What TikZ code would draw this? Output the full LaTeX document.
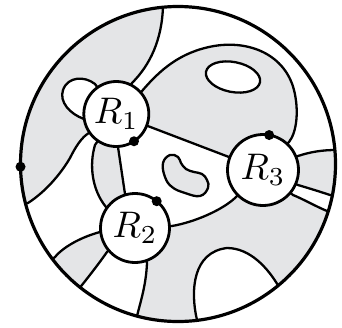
\documentclass[tikz,border=0pt]{standalone}
\usetikzlibrary{calc}
\definecolor{regiongray}{RGB}{228,229,231}
\begin{document}
\begin{tikzpicture}[x=1pt,y=-1pt,
  curve/.style={line width=2.3pt, line join=round},
  region/.style={circle, draw, line width=2.8pt, fill=white, inner sep=0pt},
  regionlabel/.style={inner sep=0pt, scale=3.7},
  dotmark/.style={circle, fill=black, inner sep=0pt, minimum size=10pt},
]
\useasboundingbox (0,0) rectangle (342,327);
% centres
\coordinate (o) at (178,164);
\coordinate (c1) at (116.3,114);
\coordinate (c2) at (135,228);
\coordinate (c3) at (263,170);
% points on the outer circle and points outside it
\coordinate (A) at (163,6);   \coordinate (A') at (160,-30);
\coordinate (B) at (28,203);  \coordinate (B') at (-12,213);
\coordinate (C) at (55,257);  \coordinate (C') at (15,287);
\coordinate (D) at (82,285);  \coordinate (D') at (57,316);
\coordinate (E) at (137,316); \coordinate (E') at (127,355);
\coordinate (F) at (197,320); \coordinate (F') at (202,360);
\coordinate (G) at (279,287); \coordinate (G') at (305,318);
\coordinate (H) at (327,211); \coordinate (H') at (356,220);
\coordinate (I) at (330,195); \coordinate (I') at (360,200);
\coordinate (J) at (336,150); \coordinate (J') at (370,148);

\begin{scope}
\clip (o) circle [radius=157.5];
\fill[regiongray] (o) circle [radius=160];
% white regions
\fill[white] (A) -- (A') -- (370,-30) -- (J') -- (J)
  .. controls (322,150) and (310,152) .. (298,156) -- (c3) -- (289,142)
  .. controls (297,132) and (299,110) .. (294,90)
  .. controls (285,55) and (250,40) .. (214,46)
  .. controls (180,52) and (160,70) .. (142,91) -- (c1) -- (132,83)
  .. controls (150,65) and (162,40) .. (A) -- cycle;
\fill[white] (c1) -- (c3) -- (235,198) .. controls (222,210) and (195,222) .. (172,226)
  -- (c2) -- (125,194) -- (118,147) -- cycle;
\fill[white] (B) -- (B') -- (C') -- (C) .. controls (65,245) and (85,236) .. (100,232)
  -- (c2) -- (106,207) .. controls (92,190) and (89,165) .. (95,145) -- (c1) -- (86,135)
  .. controls (80,140) and (75,148) .. (70,158) .. controls (60,175) and (45,192) .. (B) -- cycle;
\fill[white] (107,252) .. controls (100,262) and (90,275) .. (D) -- (D') -- (E') -- (E)
  .. controls (141,300) and (146,285) .. (147,263) -- (c2) -- cycle;
\fill[white] (F) .. controls (190,290) and (193,252) .. (227,248)
  .. controls (250,248) and (268,268) .. (G) -- (G') -- (F') -- cycle;
\fill[white] (298,185) .. controls (308,188) and (318,191) .. (I) -- (I') -- (H') -- (H)
  .. controls (315,206) and (303,199) .. (293,195) -- (c3) -- cycle;
% hole in the blob
\filldraw[fill=white, curve, rotate around={-11:(233,77)}] (233,77) ellipse [x radius=27.5, y radius=15];
% bean
\filldraw[fill=regiongray, curve] plot[smooth cycle, tension=0.7] coordinates
  {(170,155) (178,157) (181,163) (186,169) (194,172) (202,174) (207,180) (208,188) (200,196) (185,193) (172,187) (165,177) (163,163)};
% loop on R1
\filldraw[fill=white, curve] (95,84) .. controls (85,76) and (68,76) .. (63,90)
  .. controls (59,102) and (70,114) .. (84,119) -- (c1) -- cycle;
% strokes
\draw[curve] (A') -- (A) .. controls (162,40) and (150,65) .. (132,83) -- (c1);
\draw[curve] (c1) -- (142,91) .. controls (160,70) and (180,52) .. (214,46)
  .. controls (250,40) and (285,55) .. (294,90)
  .. controls (299,110) and (297,132) .. (289,142) -- (c3);
\draw[curve] (c1) -- (c3);
\draw[curve] (c3) -- (235,198) .. controls (222,210) and (195,222) .. (172,226) -- (c2);
\draw[curve] (c1) -- (95,145) .. controls (89,165) and (92,190) .. (106,207) -- (c2);
\draw[curve] (c1) -- (118,147) -- (125,194) -- (c2);
\draw[curve] (B') -- (B) .. controls (45,192) and (60,175) .. (70,158)
  .. controls (75,148) and (80,140) .. (86,135) -- (c1);
\draw[curve] (c2) -- (100,232) .. controls (85,236) and (65,245) .. (C) -- (C');
\draw[curve] (c2) -- (107,252) .. controls (100,262) and (90,275) .. (D) -- (D');
\draw[curve] (c2) -- (147,263) .. controls (146,285) and (141,300) .. (E) -- (E');
\draw[curve] (F') -- (F) .. controls (190,290) and (193,252) .. (227,248)
  .. controls (250,248) and (268,268) .. (G) -- (G');
\draw[curve] (c3) -- (298,156) .. controls (310,152) and (322,150) .. (J) -- (J');
\draw[curve] (c3) -- (298,185) .. controls (308,188) and (318,191) .. (I) -- (I');
\draw[curve] (c3) -- (293,195) .. controls (303,199) and (315,206) .. (H) -- (H');
\end{scope}
\draw[line width=3.2pt] (o) circle [radius=157.5];
\node[region, minimum size=65pt] (r1) at (c1) {};
\node[region, minimum size=69pt] (r2) at (c2) {};
\node[region, minimum size=71pt] (r3) at (c3) {};
\node[regionlabel] (l1) at (c1) {$R_1$};
\node[regionlabel] (l2) at (c2) {$R_2$};
\node[regionlabel] (l3) at (c3) {$R_3$};
\node[dotmark] (d0) at ($(o)+(179:157.5)$) {};
\node[dotmark] (d1) at ($(c1)+(57:32.5)$) {};
\node[dotmark] (d2) at ($(c2)+(-51:34.5)$) {};
\node[dotmark] (d3) at ($(c3)+(-80:35.5)$) {};
\end{tikzpicture}
\end{document}
